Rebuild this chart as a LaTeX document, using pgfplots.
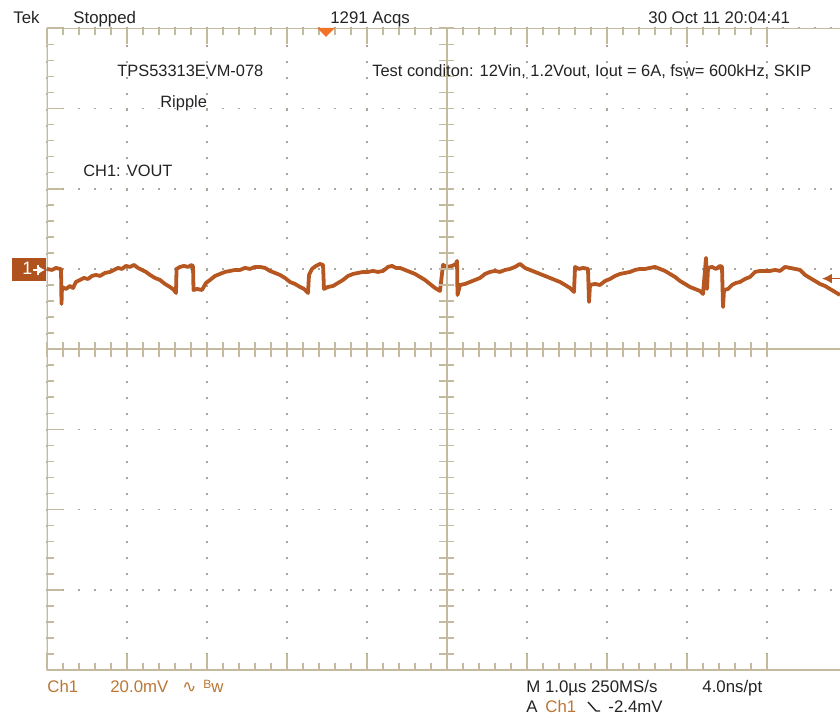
\documentclass[border=0pt]{standalone}
\usepackage{pgfplots}
\pgfplotsset{compat=1.18}
\usetikzlibrary{arrows.meta}
\usepackage{fontspec}
\setmainfont{Liberation Sans}
\newfontfamily\dv{DejaVu Sans}
\definecolor{scopeline}{RGB}{196,186,160}
\definecolor{scopedot}{RGB}{170,166,152}
\definecolor{trace}{RGB}{182,86,32}
\definecolor{chmark}{RGB}{176,82,30}
\definecolor{chtext}{RGB}{186,118,52}
\definecolor{trig}{RGB}{240,115,40}
\definecolor{txt}{RGB}{35,35,35}

\begin{document}
\begin{tikzpicture}
\useasboundingbox (0,0) rectangle (420pt,-363pt);
% screen: 1.0 us/div, 20 mV/div, Ch1 ground one div above centre
\begin{axis}[
  at={(23.35pt,-335pt)}, anchor=south west,
  width=396.65pt, height=320.85pt, scale only axis,
  xmin=0, xmax=9.916, ymin=-100, ymax=60,
  xtick={0,1,...,9}, ytick={-100,-80,...,60},
  minor x tick num=4, minor y tick num=4,
  xticklabels={}, yticklabels={},
  axis line style={draw=none},
  xtick pos=both, ytick pos=left,
  tick align=inside, major tick length=8pt, minor tick length=3.5pt,
  every tick/.style={scopeline, line width=0.8pt},
  grid=major,
  major grid style={scopedot, line width=0.8pt, dash pattern=on 0.8pt off 7.2pt, dash phase=0.4pt},
]
\draw[scopeline, line width=0.9pt] (rel axis cs:1,1) -- (rel axis cs:0,1) -- (rel axis cs:0,0) -- (rel axis cs:1,0);
\addplot[trace, line width=1.9pt, line join=round] coordinates {
(0.000,0)(0.066,-0.25)(0.116,0.25)(0.166,0)(0.179,0)(0.185,-8.75)(0.191,-4.5)
(0.241,-5)(0.291,-4.25)(0.329,-4.75)(0.366,-3.25)(0.416,-2.75)(0.466,-2.25)
(0.516,-2.5)(0.566,-1.75)(0.616,-1.5)(0.666,-1.75)(0.729,-1)(0.791,-0.75)
(0.841,-0.25)(0.891,0.25)(0.941,0)(0.991,0.75)(1.041,0.5)(1.091,1)(1.141,0.25)
(1.191,-0.25)(1.241,-0.75)(1.291,-1.5)(1.354,-2.25)(1.416,-2.75)(1.479,-3.75)
(1.541,-4.5)(1.591,-5.25)(1.616,-6)(1.623,0)(1.666,0.5)(1.716,0.75)(1.766,0.5)
(1.816,1)(1.829,0.5)(1.835,-5.25)(1.879,-5)(1.941,-5.25)(1.991,-3.5)(2.041,-2.75)
(2.104,-1.75)(2.166,-1.25)(2.229,-0.75)(2.291,-0.5)(2.354,-0.25)(2.416,-0.25)
(2.479,0.25)(2.541,0)(2.604,0.5)(2.666,0.5)(2.729,0.25)(2.791,-0.5)(2.854,-1)
(2.916,-1.5)(2.979,-2.25)(3.041,-3.25)(3.104,-3.75)(3.166,-4.5)(3.216,-5)(3.266,-6)
(3.279,-1.5)(3.316,0)(3.366,0.75)(3.416,1.25)(3.454,1)(3.466,-5)(3.516,-4.5)
(3.579,-4.25)(3.641,-3.5)(3.704,-2.75)(3.766,-1.75)(3.829,-1.25)(3.891,-1)
(3.954,-0.75)(4.016,-0.75)(4.079,-0.5)(4.141,-0.75)(4.204,-0.5)(4.266,0.5)
(4.316,0.75)(4.366,0.25)(4.416,0.25)(4.479,-0.25)(4.541,-0.75)(4.604,-1.25)
(4.666,-2)(4.729,-2.75)(4.791,-3.75)(4.854,-4.75)(4.916,-5.5)(4.954,1)(5.004,0.5)
(5.066,0.75)(5.116,1.25)(5.129,2)(5.135,-6.5)(5.166,-4)(5.229,-3.75)(5.291,-3.25)
(5.354,-2.75)(5.416,-2.25)(5.479,-1.25)(5.541,-0.75)(5.604,-0.5)(5.666,-0.75)
(5.729,-0.25)(5.791,0)(5.854,0.5)(5.916,1.25)(5.979,0.25)(6.041,-0.25)(6.104,-0.75)
(6.166,-1.25)(6.229,-1.75)(6.291,-2.25)(6.354,-2.75)(6.416,-3.25)(6.479,-4)
(6.541,-4.75)(6.591,-5.75)(6.604,0.5)(6.654,0)(6.704,0.25)(6.766,0)(6.779,-8.25)
(6.791,-4)(6.854,-3.75)(6.916,-4)(6.979,-3)(7.041,-2.5)(7.104,-1.75)(7.166,-1.25)
(7.229,-1)(7.291,-0.75)(7.354,-0.25)(7.416,0)(7.479,0)(7.541,0.25)(7.604,0.5)
(7.666,0)(7.729,-0.5)(7.791,-1.25)(7.854,-2)(7.916,-3)(7.979,-3.75)(8.041,-4.5)
(8.104,-5)(8.166,-5.5)(8.204,-6.25)(8.241,2.75)(8.254,-5)(8.266,0.25)(8.316,0.5)
(8.366,0)(8.416,0.75)(8.441,0.5)(8.454,-9.5)(8.466,-5.25)(8.516,-5)(8.566,-4)
(8.616,-3.5)(8.666,-3.25)(8.729,-2.5)(8.791,-2)(8.854,-0.75)(8.916,-0.5)(8.979,-0.5)
(9.041,-0.5)(9.104,-0.25)(9.166,-0.5)(9.229,0.5)(9.291,0.25)(9.354,0)(9.416,-0.25)
(9.479,-1.5)(9.541,-2.25)(9.604,-3)(9.666,-3.75)(9.729,-4.25)(9.791,-5)(9.854,-5.75)
(9.916,-6.5)};
% trigger level -2.4 mV
\draw[trace, line width=0.9pt, -{Latex[length=5pt,width=5pt]}] (axis cs:9.916,-2.4) -- (axis cs:9.69,-2.4);
\end{axis}
% centre cross with its ticks
\begin{axis}[
  at={(23.35pt,-335pt)}, anchor=south west,
  width=396.65pt, height=320.85pt, scale only axis,
  xmin=-5, xmax=4.916, ymin=-4, ymax=4,
  axis lines=center, axis line style={-, scopeline, line width=0.9pt},
  inner axis line style={-},
  xtick={-5,...,4}, ytick={-4,...,4},
  minor x tick num=4, minor y tick num=4,
  xticklabels={}, yticklabels={},
  tick align=center, major tick length=7.5pt, minor tick length=7.5pt,
  every tick/.style={scopeline, line width=0.8pt},
]
\end{axis}
\begin{scope}[x=0.5pt, y=-0.5pt, every node/.style={inner sep=0pt, anchor=base west}]
% trigger position marker
\fill[trig] (317,28) -- (335,28) -- (326,37) -- cycle;
\fill[chmark] (12,258) rectangle (46,281);
\node[white, font=\fontsize{9}{10}\selectfont] at (22,275) {1};
\draw[white, line width=0.7pt, -{Latex[length=3pt,width=3.5pt]}] (33,270) -- (45,270);
\draw[white, line width=0.7pt] (38,265) -- (38,275);
\begin{scope}[font=\fontsize{8.4}{10}\selectfont, txt]
\node at (13,24) {Tek};
\node at (73,24) {Stopped};
\node at (330,24) {1291 Acqs};
\node at (648,24) {30 Oct 11 20:04:41};
\node at (526,692) {M 1.0µs 250MS/s};
\node at (702,692) {4.0ns/pt};
\node at (526,712) {A};
\node[chtext] at (545,712) {Ch1};
\node at (608,712) {-2.4mV};
\node[chtext] at (47,692) {Ch1};
\node[chtext] at (110,692) {20.0mV};
\node[chtext] at (182,692) {\dv ∿};
\node[chtext] at (203,692) {\raisebox{2pt}{\fontsize{6}{7}\selectfont B}w};
\end{scope}
\begin{scope}[font=\fontsize{8.2}{10}\selectfont, txt]
\node at (117,77) {TPS53313EVM-078};
\node at (160,108) {Ripple};
\node at (83,177) {CH1: VOUT};
\node at (372,77) {Test conditon: 12Vin, 1.2Vout, Iout = 6A, fsw= 600kHz, SKIP};
\end{scope}
\draw[txt, line width=0.7pt] (588,702) -- (596,711) -- (600,711);
\end{scope}
\end{tikzpicture}
\end{document}
